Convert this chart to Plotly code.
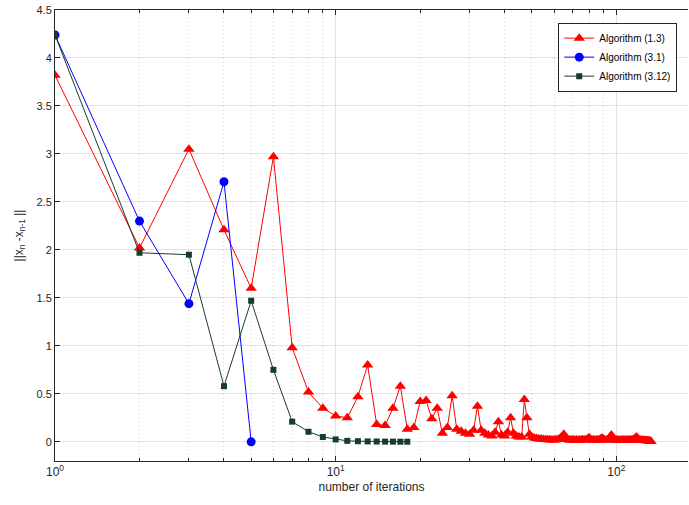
import plotly.graph_objects as go

# ---- data ----
alg13 = [3.82, 2.02, 3.05, 2.21, 1.60, 2.97, 0.98, 0.52, 0.35, 0.27,
         0.25, 0.47, 0.80, 0.18, 0.17, 0.35, 0.58, 0.13, 0.15, 0.42,
         0.43, 0.24, 0.35, 0.09, 0.15, 0.48, 0.13, 0.11, 0.09, 0.08,
         0.12, 0.37, 0.12, 0.09, 0.07, 0.06, 0.10, 0.21, 0.07, 0.06,
         0.10, 0.25, 0.09, 0.06, 0.05, 0.05, 0.44, 0.25, 0.08, 0.05,
         0.040, 0.035, 0.030, 0.028, 0.025, 0.024, 0.022, 0.021, 0.020, 0.020,
         0.022, 0.025, 0.035, 0.055, 0.080, 0.040, 0.025, 0.020, 0.018, 0.018,
         0.020, 0.018, 0.017, 0.018, 0.020, 0.022, 0.020, 0.022, 0.030, 0.042,
         0.025, 0.020, 0.018, 0.017, 0.018, 0.020, 0.022, 0.028, 0.040, 0.025,
         0.020, 0.018, 0.020, 0.030, 0.050, 0.070, 0.045, 0.025, 0.020, 0.018,
         0.017, 0.016, 0.016, 0.017, 0.018, 0.017, 0.016, 0.016, 0.017, 0.018,
         0.018, 0.017, 0.018, 0.020, 0.024, 0.030, 0.040, 0.050, 0.035, 0.022,
         0.018, 0.016, 0.015, 0.015, 0.014, 0.014, 0.013, 0.012, 0.011, 0.010,
         0.008, 0.006, 0.004]
alg31 = [4.24, 2.30, 1.44, 2.71, 0.00]
alg312 = [4.24, 1.97, 1.95, 0.58, 1.47, 0.75, 0.21, 0.105, 0.05, 0.025,
          0.01, 0.006, 0.004, 0.003, 0.002, 0.002, 0.001, 0.001]

names = ["Algorithm (1.3)", "Algorithm (3.1)", "Algorithm (3.12)"]
x_major = [1, 10, 100]
x_major_text = ["10<sup>0</sup>", "10<sup>1</sup>", "10<sup>2</sup>"]
x_minor = [2, 3, 4, 5, 6, 7, 8, 9, 20, 30, 40, 50, 60, 70, 80, 90]
y_ticks = [0, 0.5, 1, 1.5, 2, 2.5, 3, 3.5, 4, 4.5]
y_text = ["0", "0.5", "1", "1.5", "2", "2.5", "3", "3.5", "4", "4.5"]

GREEN = "#163d2a"
AX = "#262626"

fig = go.Figure()
fig.add_trace(go.Scatter(
    x=list(range(1, len(alg13) + 1)), y=alg13, name=names[0], mode="lines+markers",
    line=dict(color="#ff0000", width=1),
    marker=dict(symbol="triangle-up", size=10, color="#ff0000")))
fig.add_trace(go.Scatter(
    x=list(range(1, len(alg31) + 1)), y=alg31, name=names[1], mode="lines+markers",
    line=dict(color="#0000ff", width=1),
    marker=dict(symbol="circle", size=9, color="#0000ff")))
fig.add_trace(go.Scatter(
    x=list(range(1, len(alg312) + 1)), y=alg312, name=names[2], mode="lines+markers",
    line=dict(color=GREEN, width=1),
    marker=dict(symbol="square", size=6, color=GREEN)))

fig.update_layout(
    width=689, height=505,
    margin=dict(l=55, r=1, t=10, b=44),
    paper_bgcolor="white", plot_bgcolor="white",
    font=dict(family="Liberation Sans, Arial, sans-serif", size=11, color=AX),
    showlegend=True,
    legend=dict(x=0.795, y=0.972, xanchor="left", yanchor="top",
                bgcolor="white", bordercolor=AX, borderwidth=1,
                font=dict(size=10, color="#000000"),
                itemwidth=30, tracegroupgap=0),
)
fig.update_xaxes(
    type="log", range=[0, 2.2553],
    tickvals=x_major, ticktext=x_major_text,
    ticks="inside", ticklen=5, tickcolor=AX,
    showline=True, linecolor=AX, linewidth=1, mirror="ticks",
    showgrid=True, gridcolor="#e3e3e3", gridwidth=1,
    zeroline=False,
    tickfont=dict(size=12, color=AX),
    minor=dict(tickvals=x_minor, ticks="inside", ticklen=3, tickcolor=AX,
               showgrid=True, gridcolor="#cfcfcf", griddash="1px,3px", gridwidth=1),
    title=dict(text="number of iterations", font=dict(size=12, color=AX), standoff=4),
)
fig.update_yaxes(
    range=[-0.2, 4.5],
    tickvals=y_ticks, ticktext=y_text,
    ticks="inside", ticklen=5, tickcolor=AX,
    showline=True, linecolor=AX, linewidth=1,
    showgrid=True, gridcolor="#e3e3e3", gridwidth=1,
    zeroline=False,
    tickfont=dict(size=11, color=AX),
    title=dict(text="||x<sub>n</sub> -x<sub>n-1</sub> ||", font=dict(size=12, color=AX), standoff=10),
)

fig.write_html("out.html")
